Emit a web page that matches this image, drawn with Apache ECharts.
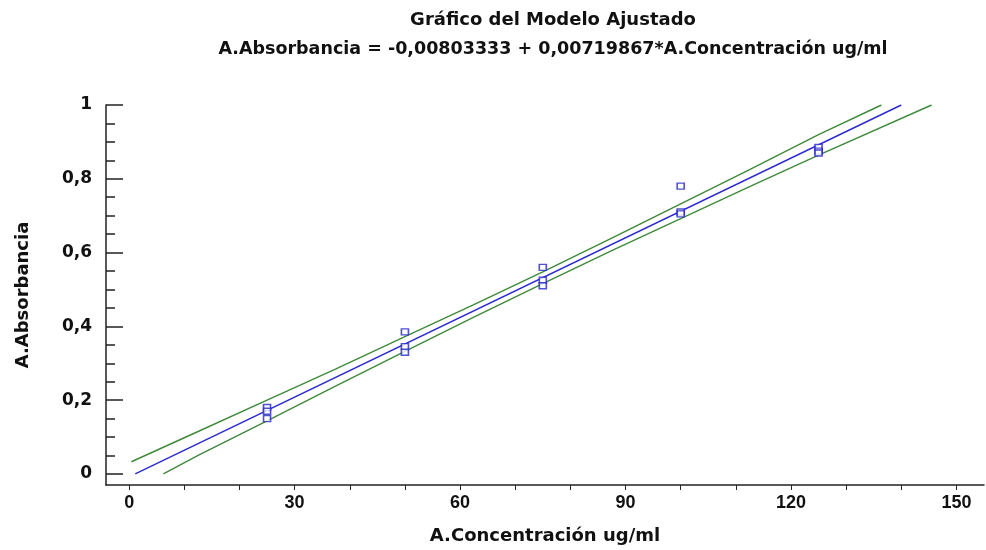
<!DOCTYPE html>
<html>
<head>
<meta charset="utf-8">
<script src="https://cdn.jsdelivr.net/npm/echarts@6/dist/echarts.min.js"></script>
<style>html,body{margin:0;padding:0;background:#fff;}#c{width:986px;height:550px;}</style>
</head>
<body>
<div id="c"></div>
<script>
// Observed data (concentration ug/ml, absorbance)
const concX = [25, 25, 25, 50, 50, 50, 75, 75, 75, 100, 100, 100, 125, 125, 125];
const absY  = [0.18, 0.17, 0.15, 0.385, 0.345, 0.33, 0.56, 0.525, 0.51, 0.78, 0.71, 0.705, 0.885, 0.875, 0.87];
// Fitted line end points
const fitX = [1.1, 140.0];
const fitY = [0, 1.0];
// Confidence limits
const upperX = [0.4, 12.5, 25, 37.5, 50, 62.5, 75, 87.5, 100, 112.5, 125, 136.4];
const upperY = [0.033, 0.115, 0.200, 0.285, 0.372, 0.459, 0.548, 0.639, 0.732, 0.825, 0.920, 1.0];
const lowerX = [6.2, 12.5, 25, 37.5, 50, 62.5, 75, 87.5, 100, 112.5, 125, 145.5];
const lowerY = [0, 0.050, 0.144, 0.239, 0.332, 0.425, 0.516, 0.605, 0.692, 0.779, 0.864, 1.0];
// Ticks
const xTickVals = [0,10,20,30,40,50,60,70,80,90,100,110,120,130,140,150];
const xLabelVals = [0, 30, 60, 90, 120, 150];
const yLabelVals = [0, 0.2, 0.4, 0.6, 0.8, 1];
const yMinorVals = [0.05,0.1,0.15,0.25,0.3,0.35,0.45,0.5,0.55,0.65,0.7,0.75,0.85,0.9,0.95];

const titleMain = 'Gráfico del Modelo Ajustado';
const titleSub = 'A.Absorbancia = -0,00803333 + 0,00719867*A.Concentración ug/ml';
const xName = 'A.Concentración ug/ml';
const yName = 'A.Absorbancia';

const zip = (a, b) => a.map((v, i) => [v, b[i]]);
const fontW = 'DejaVu Sans, Verdana, sans-serif';
const fontN = 'Liberation Sans, Arial, sans-serif';

const chart = echarts.init(document.getElementById('c'), null, {renderer: 'canvas'});
const yCommon = {
  type: 'value', min: -0.03, max: 1.0, position: 'left', offset: 0, splitLine: {show: false}
};
chart.setOption({
  animation: false,
  backgroundColor: '#fff',
  title: [
    {text: titleMain, left: 548, textAlign: 'center', top: 6, textStyle: {fontFamily: fontW, fontSize: 18, fontWeight: 'bold', color: '#111'}},
    {text: titleSub, left: 548, textAlign: 'center', top: 35, textStyle: {fontFamily: fontW, fontSize: 17.5, fontWeight: 'bold', color: '#111'}}
  ],
  grid: {left: 106, right: 2, top: 105, bottom: 62, containLabel: false},
  xAxis: {
    type: 'value', min: -4.2, max: 155,
    name: xName, nameLocation: 'middle', nameGap: 42,
    nameTextStyle: {fontFamily: fontW, fontSize: 18, fontWeight: 'bold', color: '#111'},
    axisLine: {onZero: false, lineStyle: {color: '#222', width: 1.5}},
    axisTick: {show: true, inside: false, length: 5, customValues: xTickVals, lineStyle: {color: '#222'}},
    axisLabel: {customValues: xLabelVals, margin: 9, fontFamily: fontN, fontSize: 18, fontWeight: 'bold', color: '#111'},
    splitLine: {show: false}
  },
  yAxis: [
    Object.assign({}, yCommon, {
      name: yName, nameLocation: 'middle', nameGap: 74, nameRotate: 90,
      nameTextStyle: {fontFamily: fontW, fontSize: 18, fontWeight: 'bold', color: '#111'},
      axisLine: {onZero: false, show: true, lineStyle: {color: '#222', width: 1.5}},
      axisTick: {show: true, inside: true, length: 17, customValues: yLabelVals, lineStyle: {color: '#222', width: 1.5}},
      axisLabel: {customValues: yLabelVals, margin: 14, fontFamily: fontW, fontSize: 17, fontWeight: 'bold', color: '#111',
        formatter: v => String(v).replace('.', ',')}
    }),
    Object.assign({}, yCommon, {
      axisLine: {show: false, onZero: false},
      axisTick: {show: true, inside: true, length: 9, customValues: yMinorVals, lineStyle: {color: '#222', width: 1.5}},
      axisLabel: {show: false}
    })
  ],
  series: [
    {type: 'line', data: zip(upperX, upperY), showSymbol: false,
      lineStyle: {color: '#3f8a3a', width: 1.4}, z: 2},
    {type: 'line', data: zip(lowerX, lowerY), showSymbol: false,
      lineStyle: {color: '#3f8a3a', width: 1.4}, z: 2},
    {type: 'line', data: zip(fitX, fitY), showSymbol: false,
      lineStyle: {color: '#2a2ad0', width: 1.4}, z: 3},
    {type: 'scatter', data: zip(concX, absY), symbol: 'rect', symbolSize: [7, 6],
      itemStyle: {color: '#fff', borderColor: '#2424c8', borderWidth: 1.5}, z: 4}
  ]
});
</script>
</body>
</html>
